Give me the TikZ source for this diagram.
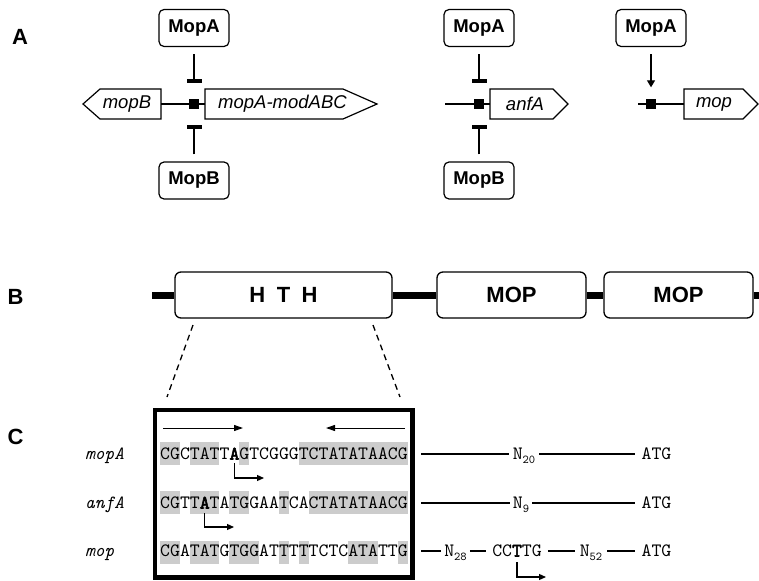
\documentclass[tikz,border=0pt]{standalone}
\usepackage{fontspec}
\setmainfont{Liberation Sans}
\newfontfamily\seqfont{lmmono10-regular.otf}[ItalicFont=lmmono10-italic.otf, BoldFont=lmmono10-regular.otf, BoldFeatures={FakeBold=3}]
\usetikzlibrary{arrows.meta}
\newcommand\bchar[1]{\textbf{#1}}
\newcommand\Nsub[1]{N\raisebox{-3.5pt}{\fontsize{12}{12}\selectfont #1}}
\begin{document}
\begin{tikzpicture}[x=1pt,y=-1pt,
  prot/.style={draw, rounded corners=5pt, line width=1.2pt, minimum width=70pt, minimum height=37pt, inner sep=0pt, font=\fontsize{18.5}{20}\selectfont\bfseries},
  barnode/.style={fill, minimum width=15pt, minimum height=4pt, inner sep=0pt},
  prom/.style={fill, minimum size=10pt, inner sep=0pt},
  gene/.style={draw, line width=1.2pt, fill=white},
  genelbl/.style={font=\fontsize{18.5}{20}\selectfont\itshape, inner sep=0pt},
  reg/.style={line width=1.2pt, shorten <=7pt},
  dnaline/.style={line width=1.2pt},
  dombox/.style={draw, fill=white, rounded corners=6pt, line width=1.3pt, minimum height=46pt, inner sep=0pt, font=\fontsize{22}{24}\selectfont\bfseries},
  panel/.style={font=\fontsize{22}{24}\selectfont\bfseries, inner sep=0pt},
  seq/.style={font=\seqfont\fontsize{18.86}{20}\selectfont, inner sep=0pt, text height=11pt, text depth=0pt},
  seqit/.style={font=\seqfont\itshape\fontsize{18.6}{20}\selectfont, inner sep=0pt, text height=11pt, text depth=0pt},
  lbl/.style={seq, inner xsep=4pt},
  hl/.style={fill=black!20},
  tss/.style={line width=1.2pt, -{Triangle[length=7pt,width=6pt]}},
  rep/.style={line width=1pt, -{Triangle[length=9pt,width=6pt]}}
]
\useasboundingbox (0,0) rectangle (759,580);

% ---------- panel labels ----------
\node[panel] (A) at (20,37) {A};
\node[panel] (B) at (15.5,296.5) {B};
\node[panel] (C) at (15.5,437) {C};

% ---------- Panel A, group 1 ----------
\draw[gene] (83,104) -- (100,89) -- (161,89) -- (161,119) -- (100,119) -- cycle;
\node[genelbl] (mopB) at (127,104) {mopB};
\draw[gene] (205,89) -- (343,89) -- (377,104) -- (343,119) -- (205,119) -- cycle;
\node[genelbl] (modABC) at (282.5,104) {mopA-modABC};
\coordinate (g1l) at (161,104);
\coordinate (g1r) at (205,104);
\node[prot] (mopA1) at (194,28) {MopA};
\node[prot] (mopB1) at (194,180.5) {MopB};
\node[barnode] (bA1) at (194,81) {};
\node[barnode] (bB1) at (194,127) {};
\draw[dnaline] (g1l) -- (g1r);
\node[prom] (p1) at (194,104) {};
\draw[reg] (mopA1) -- (bA1);
\draw[reg] (mopB1) -- (bB1);

% ---------- Panel A, group 2 ----------
\draw[gene] (490,89) -- (553,89) -- (568,104) -- (553,119) -- (490,119) -- cycle;
\node[genelbl] (anfA) at (525,104) {anfA};
\coordinate (g2l) at (445,104);
\coordinate (g2r) at (490,104);
\node[prot] (mopA2) at (479,28) {MopA};
\node[prot] (mopB2) at (479,180.5) {MopB};
\node[barnode] (bA2) at (479,81) {};
\node[barnode] (bB2) at (479,127) {};
\draw[dnaline] (g2l) -- (g2r);
\node[prom] (p2) at (479,104) {};
\draw[reg] (mopA2) -- (bA2);
\draw[reg] (mopB2) -- (bB2);

% ---------- Panel A, group 3 ----------
\draw[gene] (684,89) -- (743,89) -- (758,104) -- (743,119) -- (684,119) -- cycle;
\node[genelbl] (mop) at (714,104) {mop};
\coordinate (g3l) at (638,104);
\coordinate (g3r) at (684,104);
\node[prot] (mopA3) at (651,28) {MopA};
\draw[dnaline] (g3l) -- (g3r);
\node[prom] (p3) at (651,104) {};
\draw[reg, -{Triangle[length=7pt,width=8pt]}, shorten >=11.5pt] (mopA3) -- (p3);

% ---------- Panel B ----------
\coordinate (bl) at (152,295);
\coordinate (br) at (760,295);
\node[dombox, minimum width=217pt] (hth) at (283.5,295) {H\hspace{11.4pt}T\hspace{11.4pt}H};
\node[dombox, minimum width=149pt] (mop1) at (511.5,295) {MOP};
\node[dombox, minimum width=149pt] (mop2) at (678.5,295) {MOP};
\draw[line width=7pt] (bl) -- (hth);
\draw[line width=7pt] (hth) -- (mop1);
\draw[line width=7pt] (mop1) -- (mop2);
\draw[line width=7pt] (mop2) -- (br);

% dashed zoom lines
\coordinate (d1a) at (193,325);
\coordinate (d1b) at (167,397);
\coordinate (d2a) at (373,325);
\coordinate (d2b) at (400,397);
\draw[line width=1.3pt, dash pattern=on 6pt off 4.5pt] (d1a) -- (d1b);
\draw[line width=1.3pt, dash pattern=on 6pt off 4.5pt] (d2a) -- (d2b);

% ---------- Panel C ----------
\foreach \r/\a/\b in {453.5/0/1, 453.5/3/5, 453.5/8/8, 453.5/14/24,
                      502.5/0/1, 502.5/3/5, 502.5/7/8, 502.5/12/12, 502.5/15/24,
                      552/0/1, 552/3/5, 552/7/9, 552/12/12, 552/14/14, 552/19/21, 552/24/24}
  \fill[hl] ({160+9.9*\a},{\r-11.5}) rectangle ({160+9.9*(\b+1)},{\r+11.5});

\node[draw, line width=4.5pt, minimum width=257.5pt, minimum height=167.5pt, inner sep=0pt] (cbox) at (283.75,493.75) {};

% inverted repeat arrows
\coordinate (ir1a) at (163,428);
\coordinate (ir1b) at (243,428);
\coordinate (ir2a) at (405,428);
\coordinate (ir2b) at (326,428);
\draw[rep] (ir1a) -- (ir1b);
\draw[rep] (ir2a) -- (ir2b);

% row labels
\node[seqit, anchor=west] (lmopA) at (85,454) {mopA};
\node[seqit, anchor=west] (lanfA) at (85,503) {anfA};
\node[seqit, anchor=west] (lmop) at (85,551) {mop};

% sequences
\node[seq, anchor=west] (s1) at (160,454) {CGCTATT\bchar{A}GTCGGGTCTATATAACG};
\node[seq, anchor=west] (s2) at (160,503) {CGTT\bchar{A}TATGGAATCACTATATAACG};
\node[seq, anchor=west] (s3) at (160,551) {CGATATGTGGATTTTTCTCATATTG};

% transcription start sites
\coordinate (t1a) at (234.2,463);
\coordinate (t1b) at (264,478);
\draw[tss] (t1a) |- (t1b);
\coordinate (t2a) at (204.5,513);
\coordinate (t2b) at (234,527);
\draw[tss] (t2a) |- (t2b);

% right part, row mopA
\coordinate (r1) at (421,454);
\node[lbl] (n20) at (524,454) {\Nsub{20}};
\node[lbl, inner xsep=6pt] (atg1) at (656.5,454) {ATG};
\draw[dnaline] (r1) -- (n20) -- (atg1);

% row anfA
\coordinate (r2) at (421,503);
\node[lbl, inner xsep=3pt] (n9) at (521,503) {\Nsub{9}};
\node[lbl, inner xsep=6pt] (atg2) at (656.5,503) {ATG};
\draw[dnaline] (r2) -- (n9) -- (atg2);

% row mop
\coordinate (r3) at (421,551);
\node[lbl, inner xsep=3pt] (n28) at (455.5,551) {\Nsub{28}};
\node[lbl, inner xsep=6pt] (cc) at (517,551) {CC\bchar{T}TG};
\node[lbl, inner xsep=5pt] (n52) at (591,551) {\Nsub{52}};
\node[lbl, inner xsep=6pt] (atg3) at (656.5,551) {ATG};
\draw[dnaline] (r3) -- (n28) -- (cc) -- (n52) -- (atg3);
\coordinate (t3a) at (517,562);
\coordinate (t3b) at (546,577);
\draw[tss] (t3a) |- (t3b);
\end{tikzpicture}
\end{document}
